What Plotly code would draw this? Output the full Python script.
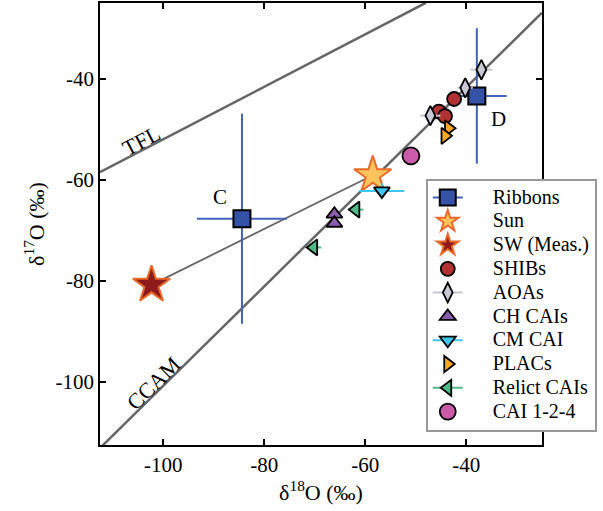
import plotly.graph_objects as go

# ---- data ----
ribbons_x = [-84.4, -37.9]
ribbons_y = [-67.7, -43.4]
ribbons_xerr = [8.9, 5.9]
ribbons_yerr = [20.8, 13.4]
ribbons_labels = ["C", "D"]

sun_x = [-58.5]
sun_y = [-59.1]
sw_x = [-102.3]
sw_y = [-80.8]

shibs_x = [-42.4, -45.4, -44.2]
shibs_y = [-44.0, -46.5, -47.4]

aoas_x = [-37.0, -40.2, -47.1]
aoas_y = [-38.2, -41.8, -47.3]
aoas_xerr = [2.2, 1.5, 2.0]
aoas_yerr = [1.0, 1.0, 1.0]

ch_x = [-66.1, -66.1]
ch_y = [-66.8, -68.6]

cm_x = [-56.7]
cm_y = [-62.2]
cm_xerr = [4.45]
cm_yerr = [1.5]

plac_x = [-43.5, -44.2]
plac_y = [-49.8, -51.3]

relict_x = [-61.85, -70.2]
relict_y = [-65.9, -73.4]
relict_xerr = [1.5, 1.5]
relict_yerr = [1.2, 1.2]

cai124_x = [-50.95]
cai124_y = [-55.25]

# reference lines
tfl_slope, tfl_icpt = 0.52, 0.0
tfl_x = [-112.5, -48.0]
ccam_slope, ccam_icpt = 0.985, -2.3
ccam_x = [-112.5, -25.0]

tick_vals = [-100, -80, -60, -40]
tick_text = ["-100", "-80", "-60", "-40"]
axis_range = [-112.5, -25.0]

FONT = "Liberation Serif"
GRAY = "#666666"

fig = go.Figure()

# lines
fig.add_trace(go.Scatter(x=tfl_x, y=[tfl_slope * v + tfl_icpt for v in tfl_x],
                         mode="lines", line=dict(color=GRAY, width=2.5),
                         showlegend=False, hoverinfo="skip"))
fig.add_trace(go.Scatter(x=ccam_x, y=[ccam_slope * v + ccam_icpt for v in ccam_x],
                         mode="lines", line=dict(color=GRAY, width=2.5),
                         showlegend=False, hoverinfo="skip"))
fig.add_trace(go.Scatter(x=[sw_x[0], sun_x[0]], y=[sw_y[0], sun_y[0]],
                         mode="lines", line=dict(color=GRAY, width=1.8),
                         showlegend=False, hoverinfo="skip"))

BLUE = "#3453a6"
BLUE_ERR = "#4263b8"
AOA_ERR = "#c8c8d4"
CYAN = "#3fc6ee"
GREEN = "#4fba84"

series = [
    dict(name="Ribbons", x=ribbons_x, y=ribbons_y, symbol="square", size=17,
         color=BLUE, lc="black", lw=2, ex=ribbons_xerr, ey=ribbons_yerr, ec=BLUE_ERR, et=2),
    dict(name="Sun", x=sun_x, y=sun_y, symbol="star", size=28,
         color="#fdc45e", lc="#e8692a", lw=2),
    dict(name="SW (Meas.)", x=sw_x, y=sw_y, symbol="star", size=28,
         color="#8e1b1b", lc="#e8692a", lw=2),
    dict(name="SHIBs", x=shibs_x, y=shibs_y, symbol="circle", size=14,
         color="#b23232", lc="black", lw=1.8),
    dict(name="AOAs", x=aoas_x, y=aoas_y, symbol="diamond-tall", size=14,
         color="#c9c9d6", lc="black", lw=1.8, ex=aoas_xerr, ey=aoas_yerr, ec=AOA_ERR, et=2),
    dict(name="CH CAIs", x=ch_x, y=ch_y, symbol="triangle-up", size=14,
         color="#8b5db0", lc="black", lw=1.8),
    dict(name="CM CAI", x=cm_x, y=cm_y, symbol="triangle-down", size=14,
         color=CYAN, lc="black", lw=1.8, ex=cm_xerr, ey=cm_yerr, ec=CYAN, et=2),
    dict(name="PLACs", x=plac_x, y=plac_y, symbol="triangle-right", size=14,
         color="#f7a825", lc="black", lw=1.8),
    dict(name="Relict CAIs", x=relict_x, y=relict_y, symbol="triangle-left", size=14,
         color=GREEN, lc="black", lw=1.8, ex=relict_xerr, ey=relict_yerr, ec=GREEN, et=2),
    dict(name="CAI 1-2-4", x=cai124_x, y=cai124_y, symbol="circle", size=17,
         color="#c95ba8", lc="black", lw=1.8),
]

# data traces
for s in series:
    kw = {}
    if "ex" in s:
        kw["error_x"] = dict(type="data", array=s["ex"], color=s["ec"], thickness=s["et"], width=0)
        kw["error_y"] = dict(type="data", array=s["ey"], color=s["ec"], thickness=s["et"], width=0)
    fig.add_trace(go.Scatter(x=s["x"], y=s["y"], mode="markers", name=s["name"],
                             marker=dict(symbol=s["symbol"], size=s["size"], color=s["color"],
                                         line=dict(color=s["lc"], width=s["lw"])),
                             showlegend=False, **kw))

# legend entries (text drawn larger than the legend row font, with a leading gap)
GAP = "\u00a0" * 5
for s in series:
    has_err = "ex" in s
    fig.add_trace(go.Scatter(x=[None], y=[None], mode="lines+markers" if has_err else "markers",
                             name='<span style="font-size:20px">' + GAP + s["name"] + "</span>",
                             line=dict(color=s.get("ec", "black"), width=2),
                             marker=dict(symbol=s["symbol"], size=s["size"], color=s["color"],
                                         line=dict(color=s["lc"], width=s["lw"]))))

# annotations
fig.add_annotation(x=-88.7, y=-63.4, text=ribbons_labels[0], showarrow=False,
                   font=dict(family=FONT, size=21, color="black"))
fig.add_annotation(x=-33.6, y=-48.0, text=ribbons_labels[1], showarrow=False,
                   font=dict(family=FONT, size=21, color="black"))
fig.add_annotation(x=-104.2, y=-52.3, text="TFL", showarrow=False, textangle=-27.5,
                   font=dict(family=FONT, size=22, color="black"))
fig.add_annotation(x=-101.9, y=-100.26, text="CCAM", showarrow=False, textangle=-44.6,
                   font=dict(family=FONT, size=22, color="black"))

axis_common = dict(range=axis_range, showgrid=False, zeroline=False,
                   showline=True, linecolor="black", linewidth=1.8, mirror="ticks",
                   ticks="inside", ticklen=6, tickwidth=1.5, tickcolor="black",
                   tickvals=tick_vals, ticktext=tick_text,
                   tickfont=dict(family=FONT, size=21, color="black"))

fig.update_xaxes(**axis_common,
                 title=dict(text="δ<sup>18</sup>O (‰)", font=dict(family=FONT, size=22, color="black"),
                            standoff=6))
fig.update_yaxes(**axis_common,
                 title=dict(text="δ<sup>17</sup>O (‰)", font=dict(family=FONT, size=22, color="black"),
                            standoff=5))

fig.update_layout(
    width=603, height=511,
    margin=dict(l=100, r=61, t=3, b=66, autoexpand=False),
    plot_bgcolor="white", paper_bgcolor="white",
    font=dict(family=FONT, color="black"),
    legend=dict(x=0.737, y=0.3167, xanchor="left", yanchor="middle",
                bgcolor="white", bordercolor="#999999", borderwidth=2,
                font=dict(family=FONT, size=16, color="black"),
                tracegroupgap=0, itemsizing="trace"),
)

fig.write_html("out.html", config={"displayModeBar": False},
               post_script="document.body.style.margin='0px';")
